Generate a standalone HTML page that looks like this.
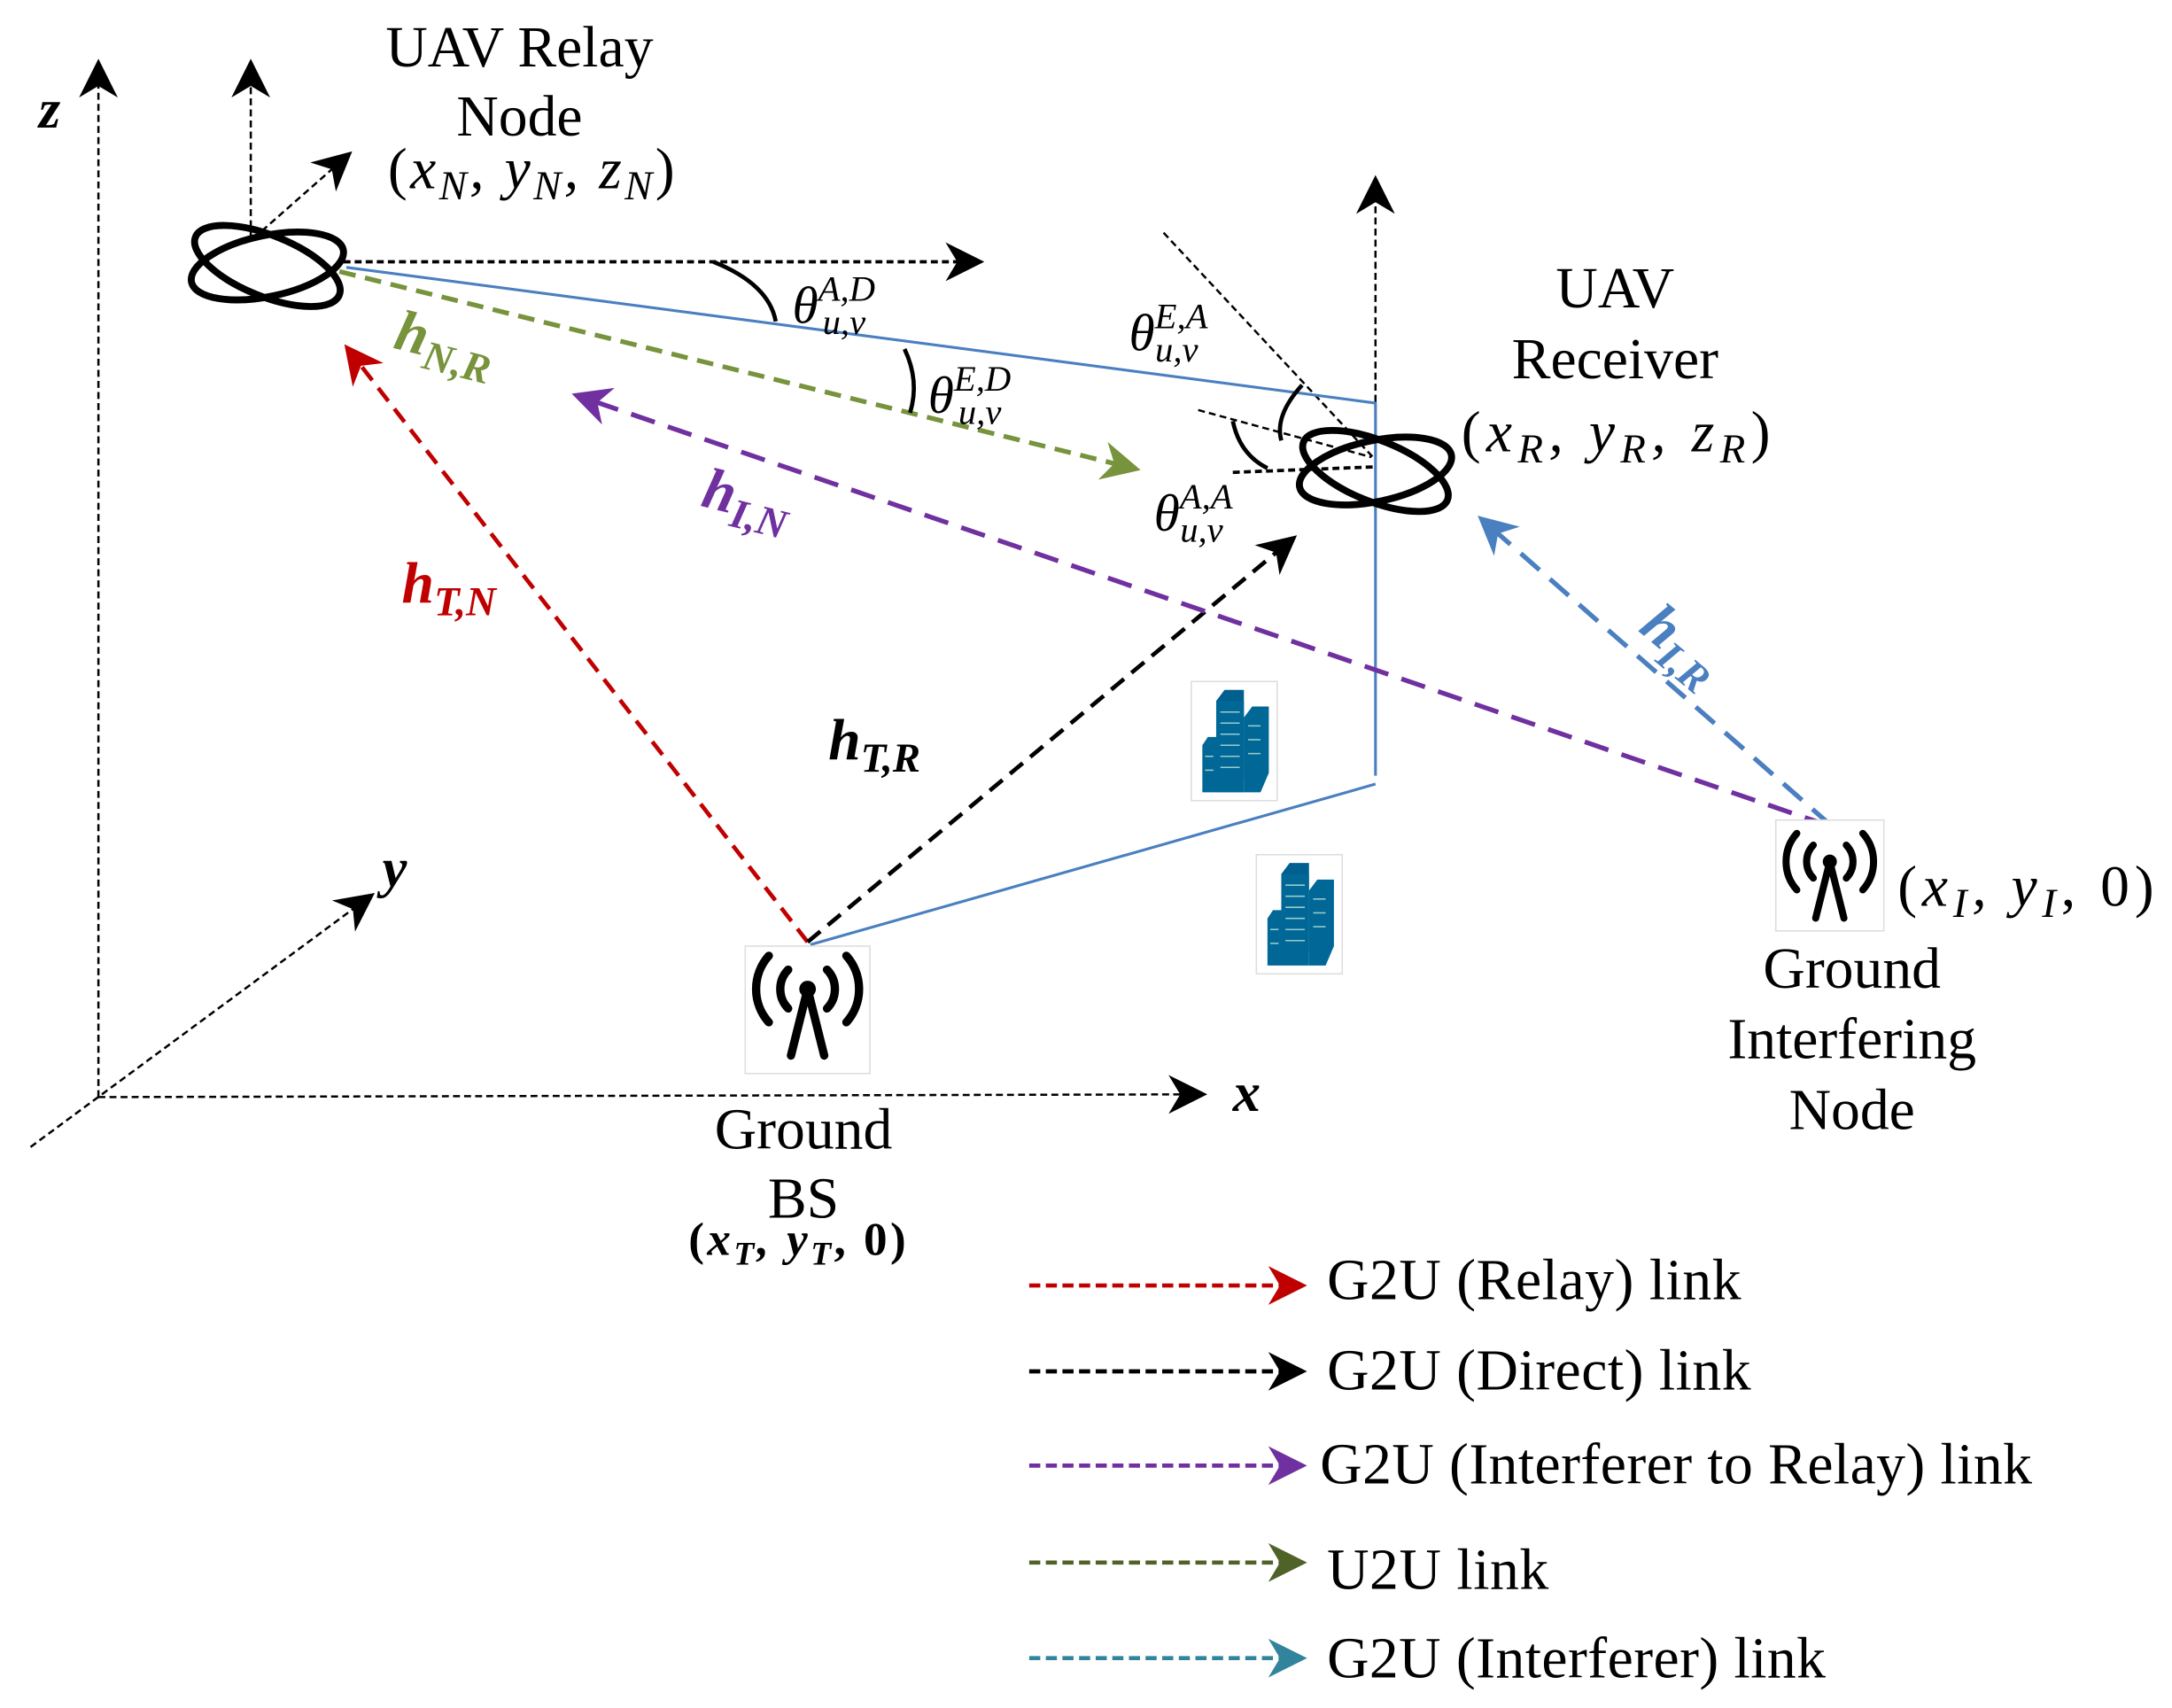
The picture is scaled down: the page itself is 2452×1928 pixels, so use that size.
<!DOCTYPE html>
<html><head><meta charset="utf-8"><style>
html,body{margin:0;padding:0;background:#fff}
svg{display:block}
text{font-family:"Liberation Serif",serif}
.l{font-size:42px}
.m{font-style:italic;font-size:38px}
</style></head><body>
<svg width="2452" height="1928" viewBox="0 0 1568 1233" xmlns="http://www.w3.org/2000/svg">
<defs>
<marker id="ab" viewBox="0 0 20 20" refX="16" refY="10" markerWidth="28" markerHeight="28" markerUnits="userSpaceOnUse" orient="auto"><path d="M0,0 L20,10 L0,20 L6,10z" fill="#000"/></marker>
<marker id="ar" viewBox="0 0 20 20" refX="16" refY="10" markerWidth="28" markerHeight="28" markerUnits="userSpaceOnUse" orient="auto"><path d="M0,0 L20,10 L0,20 L6,10z" fill="#c00000"/></marker>
<marker id="ag" viewBox="0 0 20 20" refX="16" refY="10" markerWidth="28" markerHeight="28" markerUnits="userSpaceOnUse" orient="auto"><path d="M0,0 L20,10 L0,20 L6,10z" fill="#77933c"/></marker>
<marker id="ap" viewBox="0 0 20 20" refX="16" refY="10" markerWidth="28" markerHeight="28" markerUnits="userSpaceOnUse" orient="auto"><path d="M0,0 L20,10 L0,20 L6,10z" fill="#7030a0"/></marker>
<marker id="au" viewBox="0 0 20 20" refX="16" refY="10" markerWidth="28" markerHeight="28" markerUnits="userSpaceOnUse" orient="auto"><path d="M0,0 L20,10 L0,20 L6,10z" fill="#4a7fc0"/></marker>
<marker id="dg" viewBox="0 0 20 20" refX="16" refY="10" markerWidth="28" markerHeight="28" markerUnits="userSpaceOnUse" orient="auto"><path d="M0,0 L20,10 L0,20 L6,10z" fill="#4f6228"/></marker>
<marker id="at" viewBox="0 0 20 20" refX="16" refY="10" markerWidth="28" markerHeight="28" markerUnits="userSpaceOnUse" orient="auto"><path d="M0,0 L20,10 L0,20 L6,10z" fill="#31849b"/></marker>
<g id="bld">
<rect x="0" y="0" width="62" height="86" fill="#fff" stroke="#ddd" stroke-width="1"/>
<path d="M18,74 L18,14 L24,6 L38,6 L38,70 Z" fill="#005f8f"/>
<path d="M38,74 L38,26 L44,18 L56,18 L56,66 L50,80 L38,80Z" fill="#006797"/>
<path d="M8,80 L8,46 L12,40 L18,40 L18,80Z" fill="#006797"/>
<rect x="18" y="14" width="20" height="66" fill="#006797"/>
<g stroke="#9cc" stroke-width="1">
<line x1="21" y1="22" x2="35" y2="22"/><line x1="21" y1="30" x2="35" y2="30"/><line x1="21" y1="38" x2="35" y2="38"/><line x1="21" y1="46" x2="35" y2="46"/><line x1="21" y1="54" x2="35" y2="54"/><line x1="21" y1="62" x2="35" y2="62"/><line x1="41" y1="32" x2="50" y2="32"/><line x1="41" y1="42" x2="50" y2="42"/><line x1="41" y1="52" x2="50" y2="52"/><line x1="10" y1="54" x2="16" y2="54"/><line x1="10" y1="64" x2="16" y2="64"/></g>
</g>
<g id="ant" fill="none" stroke="#000" stroke-linecap="round">
<circle cx="0" cy="0" r="6" fill="#000" stroke="none"/>
<path d="M-1,4 L-12,48 M1,4 L12,48" stroke-width="6"/>
<path d="M-14,-14 A20,20 0 0 0 -14,14 M14,-14 A20,20 0 0 1 14,14" stroke-width="6"/>
<path d="M-28,-24 A36,36 0 0 0 -28,24 M28,-24 A36,36 0 0 1 28,24" stroke-width="6"/>
</g>
<g id="uav" fill="none" stroke="#000" stroke-width="5">
<ellipse cx="0" cy="0" rx="56" ry="22" transform="rotate(-12)"/>
<ellipse cx="0" cy="0" rx="56" ry="22" transform="rotate(22)"/>
</g>
</defs>

<g stroke="#000" stroke-width="1.6" stroke-dasharray="5,3" fill="none">
<line x1="71" y1="792" x2="71" y2="48" marker-end="url(#ab)"/>
<line x1="71" y1="792" x2="866" y2="790" marker-end="url(#ab)"/>
<line x1="22" y1="828" x2="266" y2="648" marker-end="url(#ab)"/>
<line x1="181" y1="172" x2="181" y2="48" marker-end="url(#ab)"/>
<line x1="183" y1="172" x2="250" y2="113" marker-end="url(#ab)"/>
<line x1="248" y1="189" x2="705" y2="189" marker-end="url(#ab)" stroke-width="2.4"/>
<line x1="993" y1="330" x2="993" y2="132" marker-end="url(#ab)"/>
<line x1="840" y1="168" x2="993" y2="332"/>
<line x1="865" y1="296" x2="990" y2="330"/>
<line x1="890" y1="341" x2="993" y2="337" stroke-width="2.4"/>
</g>
<text x="28" y="92" style="font-size:40px;font-weight:bold;font-style:italic">z</text>
<text x="890" y="802" style="font-size:40px;font-weight:bold;font-style:italic">x</text>
<text x="276" y="640" style="font-size:40px;font-weight:bold;font-style:italic">y</text>

<g stroke="#4a7fc0" stroke-width="2" fill="none">
<polyline points="250,193 993,291 993,560"/>
<line x1="993" y1="566" x2="585" y2="682"/>
</g>

<g fill="none" stroke-width="3.4" stroke-dasharray="12,7">
<line x1="245" y1="196" x2="818" y2="338" stroke="#77933c" marker-end="url(#ag)"/>
<line x1="583" y1="680" x2="252" y2="253" stroke="#c00000" marker-end="url(#ar)" stroke-width="3"/>
<line x1="583" y1="680" x2="932" y2="390" stroke="#000" marker-end="url(#ab)" stroke-width="3"/>
<line x1="1320" y1="596" x2="418" y2="286" stroke="#7030a0" marker-end="url(#ap)" stroke-dasharray="18,10"/>
<line x1="1322" y1="596" x2="1071" y2="376" stroke="#4a7fc0" marker-end="url(#au)" stroke-dasharray="18,10"/>
</g>

<g fill="none" stroke="#000" stroke-width="3">
<path d="M515,189 Q555,205 560,232"/>
<path d="M653,252 Q664,275 657,298"/>
<path d="M940,278 Q920,300 925,318"/>
<path d="M890,304 Q895,328 915,338"/>
</g>

<use href="#uav" x="193" y="192"/>
<use href="#uav" x="993" y="340"/>

<use href="#bld" x="860" y="492"/>
<use href="#bld" x="907" y="617"/>

<rect x="538" y="683" width="90" height="92" fill="#fff" stroke="#ddd"/>
<use href="#ant" x="583" y="714"/>
<rect x="1282" y="592" width="78" height="80" fill="#fff" stroke="#ddd"/>
<g transform="translate(1321,622) scale(0.85)"><use href="#ant"/></g>

<text class="l" x="375" y="48" text-anchor="middle">UAV Relay</text>
<text class="l" x="375" y="98" text-anchor="middle">Node</text>
<text class="l" x="280" y="136" textLength="207">(<tspan font-style="italic">x<tspan font-size="30" dy="8">N</tspan><tspan dy="-8">, y</tspan><tspan font-size="30" dy="8">N</tspan><tspan dy="-8">, z</tspan><tspan font-size="30" dy="8">N</tspan></tspan><tspan dy="-8">)</tspan></text>
<text class="l" x="1166" y="222" text-anchor="middle">UAV</text>
<text class="l" x="1166" y="273" text-anchor="middle">Receiver</text>
<text class="l" x="1055" y="326" textLength="223">(<tspan font-style="italic">x<tspan font-size="30" dy="8">R</tspan><tspan dy="-8">, y</tspan><tspan font-size="30" dy="8">R</tspan><tspan dy="-8">, z</tspan><tspan font-size="30" dy="8">R</tspan></tspan><tspan dy="-8">)</tspan></text>
<text class="l" x="1370" y="654" textLength="185">(<tspan font-style="italic">x<tspan font-size="30" dy="8">I</tspan><tspan dy="-8">, y</tspan><tspan font-size="30" dy="8">I</tspan></tspan><tspan dy="-8">, 0)</tspan></text>
<text class="l" x="1337" y="713" text-anchor="middle">Ground</text>
<text class="l" x="1337" y="764" text-anchor="middle">Interfering</text>
<text class="l" x="1337" y="815" text-anchor="middle">Node</text>
<text class="l" x="580" y="829" text-anchor="middle">Ground</text>
<text class="l" x="580" y="879" text-anchor="middle">BS</text>
<text x="497" y="906" textLength="157" style="font-size:34px;font-weight:bold">(<tspan font-style="italic">x<tspan font-size="24" dy="7">T</tspan><tspan dy="-7">, y</tspan><tspan font-size="24" dy="7">T</tspan></tspan><tspan dy="-7">, 0)</tspan></text>

<g style="font-style:italic;font-weight:bold;font-size:42px">
<text x="283" y="251" fill="#77933c" transform="rotate(14 283 251)">h<tspan font-size="30" dy="9">N,R</tspan></text>
<text x="505" y="365" fill="#7030a0" transform="rotate(14 505 365)">h<tspan font-size="30" dy="9">I,N</tspan></text>
<text x="290" y="435" fill="#c00000">h<tspan font-size="30" dy="9">T,N</tspan></text>
<text x="598" y="548" fill="#000">h<tspan font-size="30" dy="9">T,R</tspan></text>
<text x="1182" y="455" fill="#4a7fc0" transform="rotate(40 1182 455)">h<tspan font-size="30" dy="9">I,R</tspan></text>
</g>
<g class="m">
<text x="572" y="233">θ<tspan font-size="26" dy="-16">A,D</tspan><tspan font-size="26" dx="-38" dy="24">u,v</tspan></text>
<text x="670" y="298">θ<tspan font-size="26" dy="-16">E,D</tspan><tspan font-size="26" dx="-38" dy="24">u,v</tspan></text>
<text x="815" y="253">θ<tspan font-size="26" dy="-16">E,A</tspan><tspan font-size="26" dx="-38" dy="24">u,v</tspan></text>
<text x="833" y="383">θ<tspan font-size="26" dy="-16">A,A</tspan><tspan font-size="26" dx="-38" dy="24">u,v</tspan></text>
</g>

<g fill="none" stroke-width="3" stroke-dasharray="8,4">
<line x1="743" y1="928" x2="938" y2="928" stroke="#c00000" marker-end="url(#ar)"/>
<line x1="743" y1="990" x2="938" y2="990" stroke="#000" marker-end="url(#ab)"/>
<line x1="743" y1="1058" x2="938" y2="1058" stroke="#7030a0" marker-end="url(#ap)"/>
<line x1="743" y1="1128" x2="938" y2="1128" stroke="#4f6228" marker-end="url(#dg)"/>
<line x1="743" y1="1197" x2="938" y2="1197" stroke="#31849b" marker-end="url(#at)"/>
</g>
<g class="l">
<text x="958" y="938" textLength="299">G2U (Relay) link</text>
<text x="958" y="1003" textLength="306">G2U (Direct) link</text>
<text x="953" y="1071" textLength="514">G2U (Interferer to Relay) link</text>
<text x="958" y="1147" textLength="160">U2U link</text>
<text x="958" y="1211" textLength="360">G2U (Interferer) link</text>
</g>
</svg>
</body></html>
